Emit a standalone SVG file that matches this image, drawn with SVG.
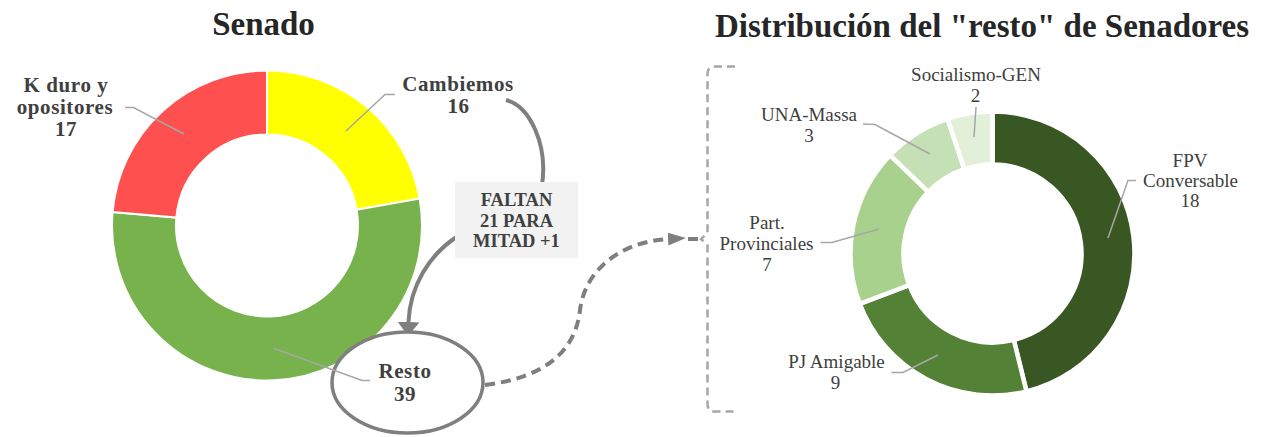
<svg xmlns="http://www.w3.org/2000/svg" width="1261" height="437" viewBox="0 0 1261 437">
<style>
text{font-family:"Liberation Serif","DejaVu Serif",serif;text-anchor:middle;fill:#404040}
.title{font-weight:bold;font-size:33px;fill:#262626}
.lb{font-weight:bold;font-size:21px;letter-spacing:0.6px}
.bx{font-weight:bold;font-size:18.5px}
.lr{font-size:19px}
.seg{stroke:#fff;stroke-width:2}
.seg2{stroke:#fff;stroke-width:4.5}
.lead{stroke:#a6a6a6;stroke-width:1.5;fill:none}
.arr{stroke:#7f7f7f;stroke-width:4;fill:none}
.dash{stroke:#7f7f7f;stroke-width:4;fill:none;stroke-dasharray:10 6}
.brace{stroke:#a6a6a6;stroke-width:2.5;fill:none;stroke-dasharray:8 5}
</style>
<defs>
<marker id="ahSolid" markerUnits="userSpaceOnUse" markerWidth="14" markerHeight="22" refX="0" refY="11" orient="auto" viewBox="0 0 14 22">
<path d="M0,0 L14,11 L0,22 Z" fill="#7f7f7f"/>
</marker>
<marker id="ahDash" markerUnits="userSpaceOnUse" markerWidth="18" markerHeight="14" refX="0" refY="7" orient="auto" viewBox="0 0 18 14">
<path d="M0,0.5 L18,7 L0,13.5 Z" fill="#7f7f7f"/>
</marker>
</defs>
<rect width="1261" height="437" fill="#fff"/>

<text class="title" x="263.5" y="35">Senado</text>
<text class="title" x="982" y="37">Distribución del "resto" de Senadores</text>

<g id="donut-senado">
<path id="seg-cambiemos" class="seg" fill="#ffff00" d="M267,70.5 A155,155 0 0 1 419.65,198.58 L356.62,209.7 A91,91 0 0 0 267,134.5 Z"/>
<path id="seg-resto" class="seg" fill="#77b24d" d="M419.65,198.58 A155,155 0 1 1 112.59,211.99 L176.35,217.57 A91,91 0 1 0 356.62,209.7 Z"/>
<path id="seg-kduro" class="seg" fill="#ff5050" d="M112.59,211.99 A155,155 0 0 1 267,70.5 L267,134.5 A91,91 0 0 0 176.35,217.57 Z"/>
</g>

<g id="donut-resto">
<path id="seg-fpv" class="seg2" fill="#385723" d="M992.5,111.5 A142,142 0 0 1 1026.48,391.37 L1013.8,339.91 A89,89 0 0 0 992.5,164.5 Z"/>
<path id="seg-pj" class="seg2" fill="#538135" d="M1026.48,391.37 A142,142 0 0 1 859.73,303.85 L909.28,285.06 A89,89 0 0 0 1013.8,339.91 Z"/>
<path id="seg-pp" class="seg2" fill="#a9d18e" d="M859.73,303.85 A142,142 0 0 1 890.09,155.13 L928.32,191.84 A89,89 0 0 0 909.28,285.06 Z"/>
<path id="seg-una" class="seg2" fill="#c5e0b4" d="M890.09,155.13 A142,142 0 0 1 947.53,118.81 L964.32,169.08 A89,89 0 0 0 928.32,191.84 Z"/>
<path id="seg-soc" class="seg2" fill="#e2f0d9" d="M947.53,118.81 A142,142 0 0 1 992.5,111.5 L992.5,164.5 A89,89 0 0 0 964.32,169.08 Z"/>
</g>

<g id="connectors">
<path class="arr" marker-end="url(#ahSolid)" d="M506,100 C530,106 548,145 542,185 C537,215 480,222 455,238 C430,255 410,285 408.5,322"/>
<path class="dash" marker-end="url(#ahDash)" d="M485,385 C540,378 575,355 580,310 C585,270 620,242 668,239"/>
<path class="dash" d="M688,239 L700,239"/>
</g>

<g id="node-faltan">
<rect x="455" y="182" width="123" height="76" fill="#f2f2f2"/>
<text class="bx" x="516.5" y="205.5">FALTAN</text>
<text class="bx" x="516.5" y="226.5">21 PARA</text>
<text class="bx" x="516.5" y="247">MITAD +1</text>
</g>

<g id="node-resto">
<ellipse cx="407.5" cy="382.5" rx="75.5" ry="50.5" fill="#fff" stroke="#7f7f7f" stroke-width="3.5"/>
<polyline class="lead" points="273,348 362,380.5 370,380.5"/>
<text class="lb" x="405" y="378">Resto</text>
<text class="lb" x="405" y="401">39</text>
</g>

<g id="label-kduro">
<polyline class="lead" points="125,107.5 133.5,107.5 184,134"/>
<text class="lb" x="66" y="92">K duro y</text>
<text class="lb" x="65" y="114">opositores</text>
<text class="lb" x="66" y="136">17</text>
</g>

<g id="label-cambiemos">
<polyline class="lead" points="395,94.5 385,94.5 346,131"/>
<text class="lb" x="458" y="91">Cambiemos</text>
<text class="lb" x="458.5" y="113">16</text>
</g>

<g id="brace">
<path class="brace" d="M735,66.5 L715,66.5 Q707.5,66.5 707.5,74 L707.5,233 L701,239 L707.5,245 L707.5,404 Q707.5,411.5 715,411.5 L735,411.5"/>
</g>

<g id="label-soc">
<polyline class="lead" points="976,107 974,137"/>
<text class="lr" x="976" y="80.5">Socialismo-GEN</text>
<text class="lr" x="975.5" y="101.5">2</text>
</g>
<g id="label-una">
<polyline class="lead" points="863,124 875,124.5 930,154"/>
<text class="lr" x="809" y="120.5">UNA-Massa</text>
<text class="lr" x="809" y="141.5">3</text>
</g>
<g id="label-pp">
<polyline class="lead" points="820.5,242.5 832,242.5 879,229"/>
<text class="lr" x="767" y="229">Part.</text>
<text class="lr" x="766.5" y="250">Provinciales</text>
<text class="lr" x="767" y="271">7</text>
</g>
<g id="label-pj">
<polyline class="lead" points="891.5,372.5 903,372.5 938,355"/>
<text class="lr" x="836.5" y="368">PJ Amigable</text>
<text class="lr" x="835.5" y="389">9</text>
</g>
<g id="label-fpv">
<polyline class="lead" points="1136,180.5 1128,180.5 1108,238"/>
<text class="lr" x="1190" y="166.5">FPV</text>
<text class="lr" x="1190.5" y="186.5">Conversable</text>
<text class="lr" x="1190" y="206.5">18</text>
</g>
</svg>
